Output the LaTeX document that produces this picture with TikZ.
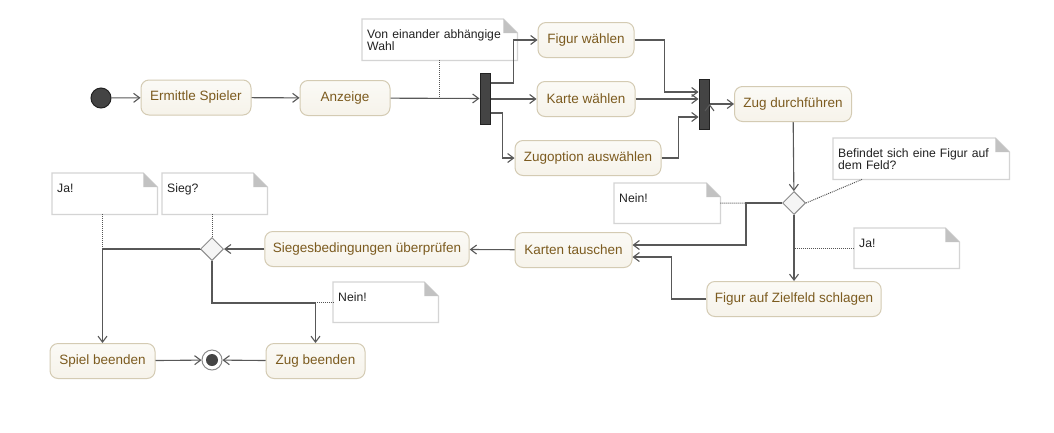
\documentclass[tikz,border=0pt]{standalone}
\usepackage{fontspec}
\setmainfont{Liberation Sans}
\usepackage{tikz}
\usetikzlibrary{calc,shapes,shapes.geometric,arrows.meta}
\definecolor{actfill}{HTML}{F6F3EA}
\definecolor{actfilltop}{HTML}{FBFAF6}
\definecolor{actborder}{HTML}{D4CBB3}
\definecolor{acttext}{HTML}{7C5B1F}
\definecolor{flowgray}{HTML}{585858}
\definecolor{linkgray}{HTML}{555555}
\definecolor{barfill}{HTML}{444444}
\definecolor{barborder}{HTML}{222222}
\definecolor{decfill}{HTML}{F5F5F5}
\definecolor{decborder}{HTML}{8C8C8C}
\definecolor{notegray}{HTML}{D4D4D4}
\definecolor{foldgray}{HTML}{C2C2C2}
\definecolor{notetext}{HTML}{222222}
\tikzset{
   action node/.style={rectangle,rounded corners=8pt,draw=actborder,line width=1pt,
                       top color=actfilltop,bottom color=actfill,text=acttext,
                       minimum height=35pt,inner xsep=8pt,font=\fontsize{13.5}{15}\selectfont},
   note node/.style={anchor=north west,rectangle,fill=white,inner xsep=5pt,inner ysep=0pt,
                     align=left,text=notetext,text height=19pt,font=\fontsize{12.2}{12}\selectfont},
   note border/.style={draw=notegray,line width=1.2pt},
   bar node/.style={rectangle,fill=barfill,draw=barborder,line width=1pt,
                    minimum width=10pt,inner sep=0pt},
   decision node/.style={diamond,aspect=1,fill=decfill,draw=decborder,line width=1pt,
                         minimum size=23pt,inner sep=0pt},
   flow/.style={->,draw=flowgray,line width=1.1pt},
   note link/.style={draw=linkgray,densely dotted,line width=1pt}
}

\begin{document}
\begin{tikzpicture}[x=1pt,y=-1pt,
                    >={Straight Barb[length=6pt,width=9pt]}]
\fill[white] (0,0) rectangle (1054,432);
\useasboundingbox (0,0) rectangle (1054,432);
% start and the first row
\node[circle,fill=barfill,draw=barborder,line width=1pt,minimum size=20pt,inner sep=0pt] (start) at (101,98) {};
\node[action node,minimum width=110pt] (ermittle)  at (196,97.5) {Ermittle Spieler};
\node[action node,minimum width=90pt]  (anzeige)   at (345,98)   {Anzeige};
\node[bar node,minimum height=51pt]    (bar1)      at (485,98.5) {};
\node[action node,minimum width=96pt]  (figur)     at (586,40)   {Figur wählen};
\node[action node,minimum width=98pt]  (karte)     at (586,99)   {Karte wählen};
\node[action node,minimum width=146pt] (zugoption) at (588,158)  {Zugoption auswählen};
\node[bar node,minimum height=50pt]    (bar2)      at (704,104)  {};
\node[action node,minimum width=117pt] (zug)       at (793,104)  {Zug durchführen};
%
\node[decision node] (feld)     at (794,203)   {};
\node[action node,minimum width=174pt] (schlagen) at (794,299)   {Figur auf Zielfeld schlagen};
\node[action node,minimum width=117pt] (tauschen) at (573.5,250) {Karten tauschen};
\node[action node,minimum width=202pt] (sieges)   at (367,249)   {Siegesbedingungen überprüfen};
\node[decision node] (sieg)     at (212,249)   {};
\node[action node,minimum width=105pt] (spiel)    at (102.5,361) {Spiel beenden};
\node[action node,minimum width=99pt]  (zugende)  at (315.5,361) {Zug beenden};
\node[circle,draw=decborder,fill=white,line width=1pt,minimum size=20pt,inner sep=0pt,
      path picture={\fill[barfill] (path picture bounding box.center) circle (6pt);}] (stop) at (212,360) {};
% notes
\node[note node,text width=145pt,text depth=22pt] (wahlnote)     at (362,19)  {Von einander abhängige\\Wahl};
\node[note node,text width=166pt,text depth=22pt] (feldnote)     at (833,138) {Befindet sich eine Figur auf\\dem Feld?};
\node[note node,text width=96pt,text depth=21pt]  (neinfeldnote) at (614,183) {Nein!};
\node[note node,text width=95pt,text depth=21pt]  (jafeldnote)   at (854,228) {Ja!};
\node[note node,text width=95pt,text depth=22pt]  (jasiegnote)   at (52,173)  {Ja!};
\node[note node,text width=95pt,text depth=22pt]  (siegnote)     at (162,173) {Sieg?};
\node[note node,text width=95pt,text depth=21pt]  (neinsiegnote) at (333,282) {Nein!};
\foreach \n in {wahlnote,feldnote,neinfeldnote,jafeldnote,jasiegnote,siegnote,neinsiegnote} {
  \draw[note border] (\n.south west) -- (\n.north west) -- ($(\n.north east)+(-14,0)$)
        -- ($(\n.north east)+(0,14)$) -- (\n.south east) -- cycle;
  \fill[foldgray] ($(\n.north east)+(-14,0)$) -- ($(\n.north east)+(-14,14)$) -- ($(\n.north east)+(0,14)$) -- cycle;
}
%
\path[flow]
  (start) edge (ermittle)
  (ermittle) edge (anzeige)
  (anzeige) edge (bar1)
  (bar1.east |- karte) edge (karte)
  (karte.east) edge (bar2.west |- karte.east)
  (bar2.east |- zug) edge (zug)
  (zug) edge (feld)
  (feld) edge (schlagen)
  (tauschen) edge (sieges)
  (sieges) edge (sieg)
  (spiel) edge (stop)
  (zugende) edge (stop)
  ;
\draw[flow] (bar1.east |- 0,83) -- ++(23,0) |- (figur);
\draw[flow] (bar1.east |- 0,113) -- ++(12,0) |- (zugoption);
\draw[flow] (figur.east) -- ++(30,0) |- (bar2.west |- 0,92);
\draw[flow] (zugoption.east) -- ++(17,0) |- (bar2.west |- 0,117);
\draw[flow] (feld.west) -- ++(-36,0) |- ([yshift=5pt]tauschen.east);
\draw[flow] (schlagen.west) -- ++(-35,0) |- ([yshift=-7pt]tauschen.east);
\draw[flow] (sieg.west) -| (spiel);
\draw[flow] (sieg.south) -- ++(0,42) -| (zugende);
% note links
\draw[note link] (wahlnote.south) |- (bar1.west);
\draw[note link] (feld.east) -- ([xshift=29pt]feldnote.south west);
\draw[note link] (neinfeldnote.east) -- (feld.west);
\draw[note link] (feld.south) |- (jafeldnote.west);
\draw[note link] (siegnote.south -| sieg) -- (sieg.north);
\draw[note link] (jasiegnote.south -| spiel) |- (sieg.west);
\draw[note link] (sieg.south) |- (neinsiegnote.west);
\end{tikzpicture}
\end{document}
